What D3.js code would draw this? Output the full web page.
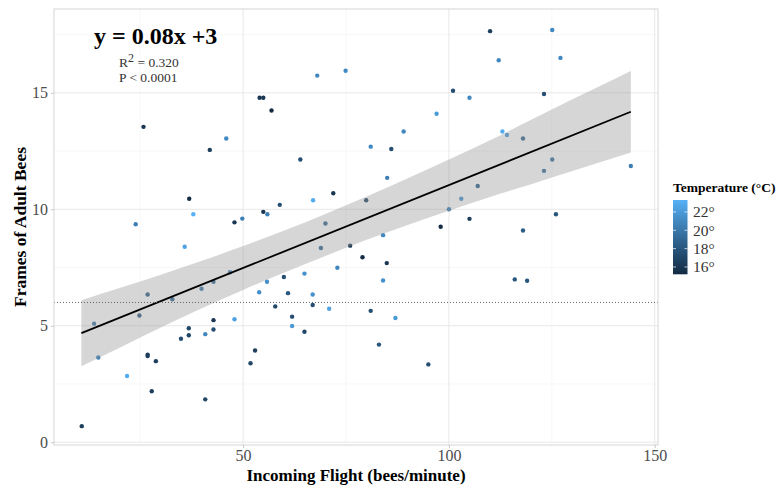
<!DOCTYPE html>
<html>
<head>
<meta charset="utf-8">
<script src="https://cdn.jsdelivr.net/npm/d3@7"></script>
<style>
  body { margin: 0; background: #fff; }
  svg text { font-family: "Liberation Serif", "DejaVu Serif", serif; }
</style>
</head>
<body>
<svg id="chart" width="780" height="485"></svg>
<script>
// bees/minute
const incoming = [10.8, 13.8, 14.8, 21.8, 23.9, 24.8, 25.8, 26.8, 26.8, 26.8, 27.8, 28.8, 32.8, 34.9, 35.8, 36.8, 36.8, 36.9, 37.9, 39.9,
  40.8, 40.8, 41.9, 42.8, 42.8, 42.8, 45.9, 46.8, 47.9, 47.9, 49.8, 51.8, 52.9, 53.9, 54.0, 54.9, 54.9, 55.8, 55.9, 56.9,
  57.8, 58.9, 59.9, 60.9, 61.9, 61.9, 63.9, 64.9, 64.9, 66.9, 66.9, 67.0, 68.0, 68.9, 70.0, 70.9, 71.9, 72.9, 74.9, 76.0,
  79.0, 79.9, 81.0, 81.0, 83.0, 84.0, 84.0, 84.9, 85.0, 86.0, 87.0, 89.0, 95.0, 97.0, 98.0, 100.0, 101.0, 103.0, 105.0, 105.0,
  107.0, 110.0, 112.1, 113.0, 114.1, 116.0, 118.0, 118.0, 119.0, 123.1, 123.1, 125.1, 125.1, 126.0, 127.1, 144.2];
const frames = [0.69, 5.09, 3.64, 2.84, 9.36, 5.44, 13.54, 6.34, 3.76, 3.70, 2.19, 3.48, 6.14, 4.44, 8.39, 4.89, 4.59, 10.45, 9.79, 6.59,
  4.64, 1.84, 12.55, 6.89, 5.24, 4.84, 13.04, 7.30, 9.44, 5.28, 9.60, 3.39, 3.94, 6.44, 14.79, 14.79, 9.89, 6.89, 9.79, 14.24,
  5.83, 10.19, 7.09, 6.40, 5.39, 4.99, 12.14, 7.24, 4.74, 6.34, 5.89, 10.39, 15.74, 8.34, 9.39, 5.73, 10.69, 7.49, 15.95, 8.44,
  7.94, 10.39, 12.69, 5.64, 4.19, 8.89, 6.94, 7.69, 11.35, 12.59, 5.33, 13.34, 3.34, 14.10, 9.25, 10.0, 15.09, 10.45, 14.79, 9.59,
  11.0, 17.65, 16.40, 13.34, 13.19, 6.99, 13.04, 9.09, 6.93, 14.95, 11.65, 17.70, 12.14, 9.79, 16.50, 11.86];
const temperature = [16.5, 20, 20.5, 23, 20.5, 18, 16, 18.5, 16.5, 16.5, 16.5, 16.5, 19, 17.5, 22.5, 17, 17, 15.2, 23.3, 20,
  21, 17, 16.5, 19, 16, 17.5, 21, 20.5, 16, 22.5, 20.5, 17, 16.5, 21.5, 16, 16, 16, 21.5, 20.5, 15.2,
  17, 17.5, 17.5, 18, 17.5, 22, 17.5, 21.5, 17, 21.5, 17.5, 23, 21, 19, 19, 22.5, 16, 21, 21, 16,
  15.2, 17, 21, 17.5, 18, 21, 21.5, 16, 20.5, 17.5, 22, 21, 17.5, 22, 15.2, 20.5, 17.5, 21.5, 21, 16.5,
  18.5, 16.5, 21, 23, 22, 18, 19, 18.5, 18, 17.5, 19.5, 21, 19.5, 18, 21, 20.5];

// fitted line and 95% band
const fitX = [10.7, 144.2];
const fitY = [4.68, 14.19];
const bandX = [10.7, 20, 30, 40, 50, 60, 70, 80, 90, 100, 110, 120, 130, 144.2];
const bandUpper = [6.10, 6.62, 7.19, 7.79, 8.42, 9.09, 9.80, 10.55, 11.33, 12.14, 12.97, 13.84, 14.72, 15.94];
const bandLower = [3.26, 4.06, 4.93, 5.75, 6.54, 7.29, 8.00, 8.69, 9.33, 9.94, 10.53, 11.08, 11.64, 12.44];
const refLine = 6;

const xTicks = [50, 100, 150];
const xMinor = [25, 75, 125];
const yTicks = [0, 5, 10, 15];
const yMinor = [2.5, 7.5, 12.5, 17.5];
const tempTicks = [16, 18, 20, 22];

const svg = d3.select("#chart");
const pL = 54, pR = 658, pT = 9, pB = 445;

const x = d3.scaleLinear().domain([4.05, 150.8]).range([pL, pR]);
const y = d3.scaleLinear().domain([-0.12, 18.6]).range([pB, pT]);
const color = d3.scaleLinear().domain(d3.extent(temperature))
  .range(["#132B43", "#56B1F7"]).interpolate(d3.interpolateLab);

const panel = svg.append("g");
panel.append("clipPath").attr("id", "clip").append("rect")
  .attr("x", pL).attr("y", pT).attr("width", pR - pL).attr("height", pB - pT);

// grid
panel.selectAll(".vminor").data(xMinor).join("line")
  .attr("x1", d => x(d)).attr("x2", d => x(d)).attr("y1", pT).attr("y2", pB)
  .attr("stroke", "#F2F2F2").attr("stroke-width", 0.6);
panel.selectAll(".hminor").data(yMinor).join("line")
  .attr("y1", d => y(d)).attr("y2", d => y(d)).attr("x1", pL).attr("x2", pR)
  .attr("stroke", "#F2F2F2").attr("stroke-width", 0.6);
panel.selectAll(".vmajor").data(xTicks).join("line")
  .attr("x1", d => x(d)).attr("x2", d => x(d)).attr("y1", pT).attr("y2", pB)
  .attr("stroke", "#E8E8E8").attr("stroke-width", 1);
panel.selectAll(".hmajor").data(yTicks).join("line")
  .attr("y1", d => y(d)).attr("y2", d => y(d)).attr("x1", pL).attr("x2", pR)
  .attr("stroke", "#E8E8E8").attr("stroke-width", 1);

// points
const pts = incoming.map((d, i) => ({ x: d, y: frames[i], t: temperature[i] }));
panel.append("g").selectAll("circle").data(pts).join("circle")
  .attr("cx", d => x(d.x)).attr("cy", d => y(d.y)).attr("r", 2.2)
  .attr("fill", d => color(d.t));

// confidence band over the points
const band = bandX.map((d, i) => ({ x: d, lo: bandLower[i], hi: bandUpper[i] }));
panel.append("path").datum(band)
  .attr("clip-path", "url(#clip)")
  .attr("fill", "#999999").attr("fill-opacity", 0.4)
  .attr("d", d3.area().x(d => x(d.x)).y0(d => y(d.lo)).y1(d => y(d.hi)).curve(d3.curveMonotoneX));

panel.append("path").datum(fitX.map((d, i) => [d, fitY[i]]))
  .attr("fill", "none").attr("stroke", "#000").attr("stroke-width", 1.8)
  .attr("d", d3.line().x(d => x(d[0])).y(d => y(d[1])));

// dotted reference line
panel.append("line")
  .attr("x1", pL).attr("x2", pR).attr("y1", y(refLine)).attr("y2", y(refLine))
  .attr("stroke", "#666").attr("stroke-width", 1).attr("stroke-dasharray", "1,2");

// border
panel.append("rect")
  .attr("x", pL).attr("y", pT).attr("width", pR - pL).attr("height", pB - pT)
  .attr("fill", "none").attr("stroke", "#D6D6D6").attr("stroke-width", 1);

// axes
const xAxis = svg.append("g").attr("transform", `translate(0,${pB})`)
  .call(d3.axisBottom(x).tickValues(xTicks).tickSize(3).tickPadding(2));
const yAxis = svg.append("g").attr("transform", `translate(${pL},0)`)
  .call(d3.axisLeft(y).tickValues(yTicks).tickSize(3).tickPadding(3));
[xAxis, yAxis].forEach(a => {
  a.select(".domain").remove();
  a.selectAll(".tick line").attr("stroke", "#C8C8C8");
  a.selectAll(".tick text").attr("fill", "#4D4D4D")
    .style("font-size", "16px").style("font-family", "Liberation Serif");
});

svg.append("text").attr("x", (pL + pR) / 2).attr("y", 481)
  .attr("text-anchor", "middle").style("font-weight", "bold").style("font-size", "17px")
  .text("Incoming Flight (bees/minute)");
svg.append("text").attr("transform", `translate(26,${(pT + pB) / 2}) rotate(-90)`)
  .attr("text-anchor", "middle").style("font-weight", "bold").style("font-size", "17.5px")
  .text("Frames of Adult Bees");

// annotation
svg.append("text").attr("x", 94).attr("y", 44)
  .style("font-weight", "bold").style("font-size", "24px").text("y = 0.08x +3");
const r2 = svg.append("text").attr("x", 119).attr("y", 67).attr("fill", "#333").style("font-size", "13.5px");
r2.append("tspan").text("R");
r2.append("tspan").attr("dy", -5).style("font-size", "12px").text("2");
r2.append("tspan").attr("dy", 5).text(" = 0.320");
svg.append("text").attr("x", 119).attr("y", 82).attr("fill", "#333").style("font-size", "13.5px")
  .text("P < 0.0001");

// legend
const lg = svg.append("g");
const barX = 673, barW = 14.5, barTop = 200, barBot = 274.3;
lg.append("text").attr("x", 673).attr("y", 192).style("font-weight", "bold").style("font-size", "13.5px")
  .text("Temperature (°C)");
const tScale = d3.scaleLinear().domain(d3.extent(temperature)).range([barBot, barTop]);
const defs = svg.append("defs");
const grad = defs.append("linearGradient").attr("id", "tgrad")
  .attr("x1", 0).attr("y1", 1).attr("x2", 0).attr("y2", 0);
d3.range(0, 1.0001, 0.1).forEach(f => {
  const t = tScale.domain()[0] + f * (tScale.domain()[1] - tScale.domain()[0]);
  grad.append("stop").attr("offset", f).attr("stop-color", color(t));
});
lg.append("rect").attr("x", barX).attr("y", barTop).attr("width", barW).attr("height", barBot - barTop)
  .attr("fill", "url(#tgrad)");
lg.selectAll(".tl").data(tempTicks).join("line")
  .attr("x1", barX).attr("x2", barX + 3).attr("y1", d => tScale(d)).attr("y2", d => tScale(d))
  .attr("stroke", "#fff").attr("stroke-opacity", 0.7);
lg.selectAll(".tr").data(tempTicks).join("line")
  .attr("x1", barX + barW - 3).attr("x2", barX + barW).attr("y1", d => tScale(d)).attr("y2", d => tScale(d))
  .attr("stroke", "#fff").attr("stroke-opacity", 0.7);
lg.selectAll(".tt").data(tempTicks).join("text")
  .attr("x", 693).attr("y", d => tScale(d)).attr("dy", "0.35em")
  .attr("fill", "#333").style("font-size", "15.5px")
  .text(d => d + "°");
</script>
</body>
</html>
